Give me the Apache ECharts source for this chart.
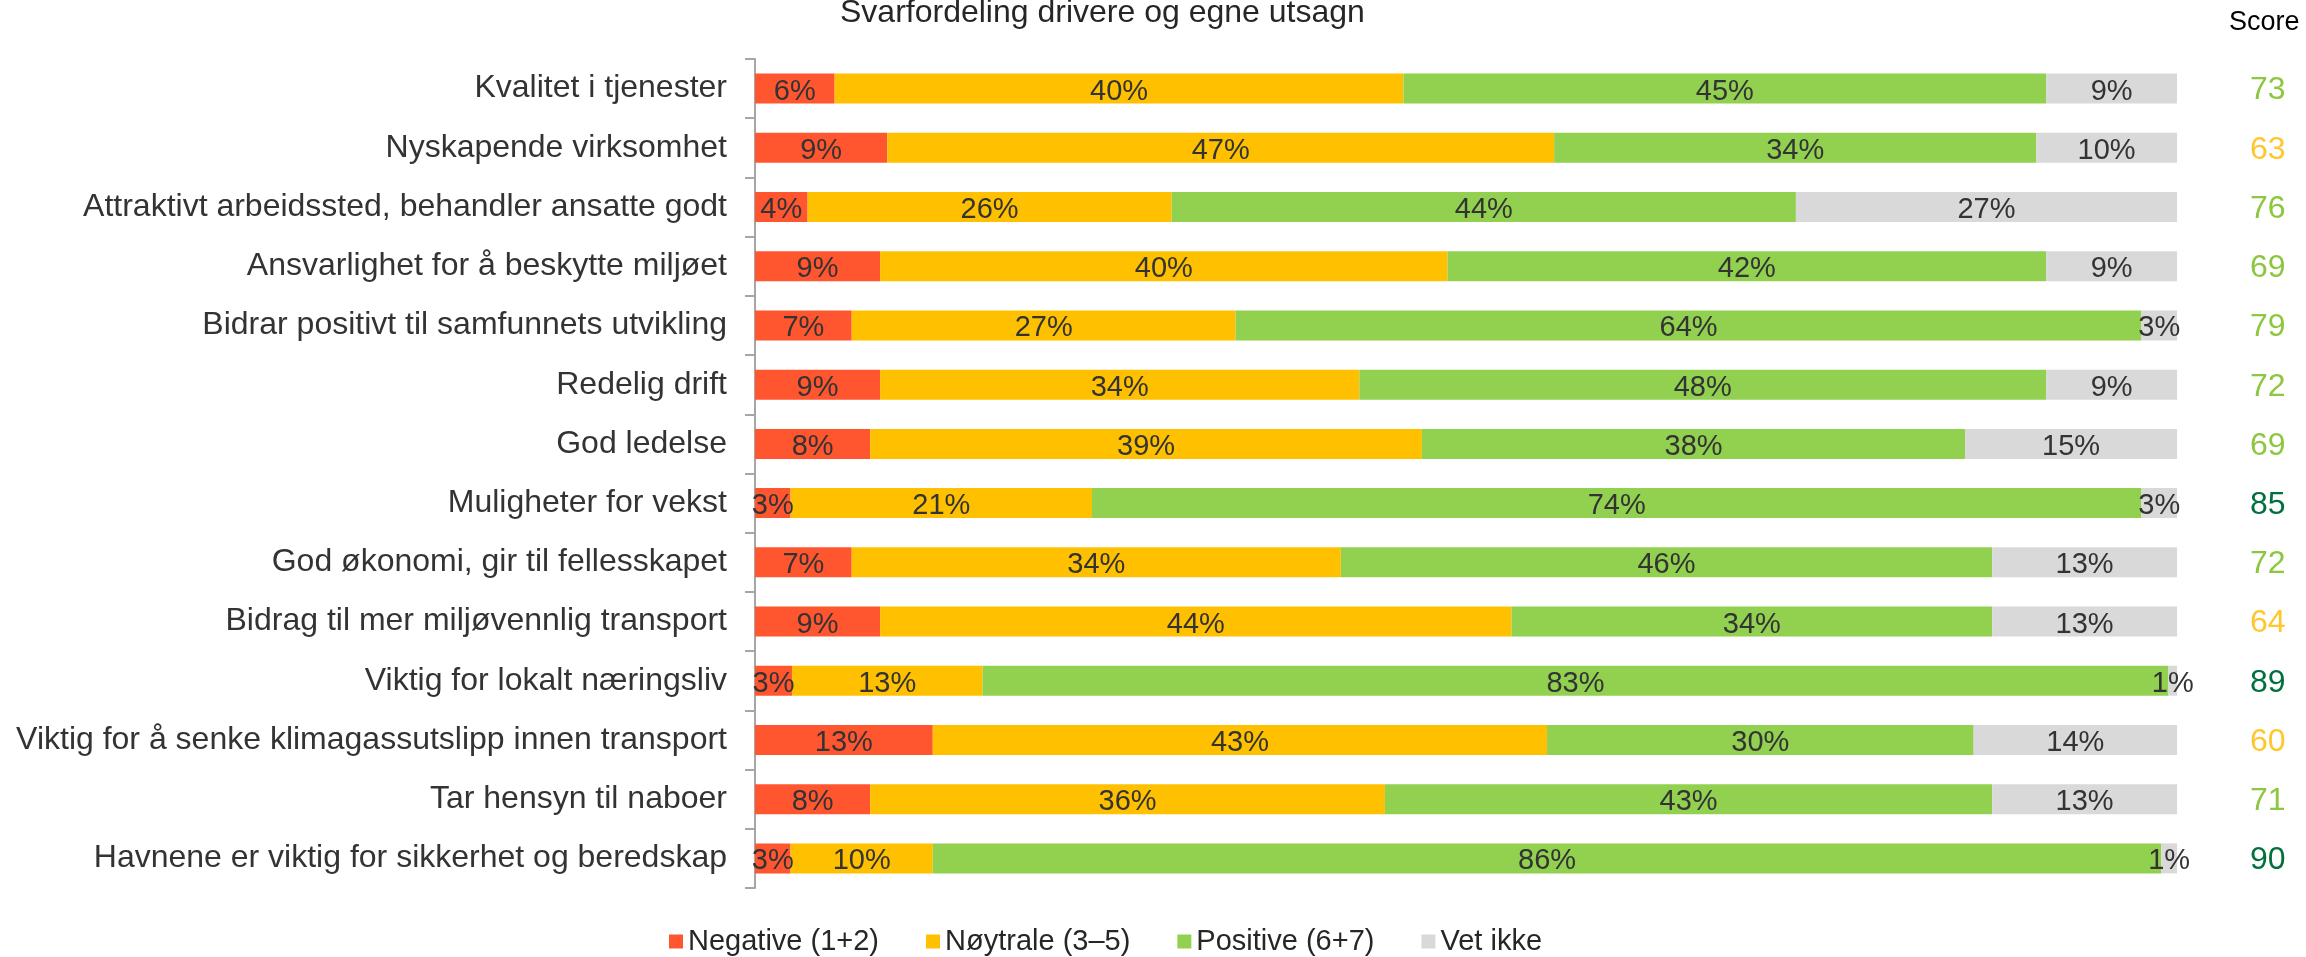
<!DOCTYPE html>
<html>
<head>
<meta charset="utf-8">
<script src="https://cdn.jsdelivr.net/npm/echarts@6/dist/echarts.min.js"></script>
<style>
  html, body { margin: 0; padding: 0; background: #fff; }
  #chart { width: 2306px; height: 957px; }
</style>
</head>
<body>
<div id="chart"></div>
<script>
const categories = [
  'Kvalitet i tjenester',
  'Nyskapende virksomhet',
  'Attraktivt arbeidssted, behandler ansatte godt',
  'Ansvarlighet for å beskytte miljøet',
  'Bidrar positivt til samfunnets utvikling',
  'Redelig drift',
  'God ledelse',
  'Muligheter for vekst',
  'God økonomi, gir til fellesskapet',
  'Bidrag til mer miljøvennlig transport',
  'Viktig for lokalt næringsliv',
  'Viktig for å senke klimagassutslipp innen transport',
  'Tar hensyn til naboer',
  'Havnene er viktig for sikkerhet og beredskap'
]

const negative = [5.6, 9.3, 3.7, 8.8, 6.8, 8.8, 8.1, 2.5, 6.8, 8.8, 2.6, 12.5, 8.1, 2.5]
const neutral  = [40.0, 46.9, 25.6, 39.9, 27.0, 33.7, 38.8, 21.2, 34.4, 44.4, 13.4, 43.2, 36.2, 10.0]
const positive = [45.2, 33.9, 43.9, 42.1, 63.7, 48.3, 38.2, 73.8, 45.8, 33.8, 83.4, 30.0, 42.7, 86.4]
const dontKnow = [9.2, 9.9, 26.8, 9.2, 2.5, 9.2, 14.9, 2.5, 13.0, 13.0, 0.6, 14.3, 13.0, 1.1]

const scores = [73, 63, 76, 69, 79, 72, 69, 85, 72, 64, 89, 60, 71, 90]

const seriesNames = ['Negative (1+2)', 'Nøytrale (3–5)', 'Positive (6+7)', 'Vet ikke']
const COLORS = ['#FF5630', '#FFC000', '#92D050', '#D9D9D9']

const FONT = "'Liberation Sans', Arial, sans-serif"

function scoreClass(v) {
  if (v < 65) return 'low'
  if (v < 85) return 'mid'
  return 'high'
}

const chart = echarts.init(document.getElementById('chart'))

const seriesData = [negative, neutral, positive, dontKnow]

chart.setOption({
  animation: false,
  textStyle: { fontFamily: FONT },
  title: [
    {
      text: 'Svarfordeling drivere og egne utsagn',
      left: 840,
      top: -3,
      padding: 0,
      textStyle: { fontFamily: FONT, fontSize: 32, fontWeight: 'normal', color: '#262626' }
    },
    {
      text: 'Score',
      left: 2229,
      top: 9,
      padding: 0,
      textStyle: { fontFamily: FONT, fontSize: 27, fontWeight: 'normal', color: '#000' }
    }
  ],
  legend: {
    left: 669,
    top: 927,
    padding: 0,
    itemWidth: 14,
    itemHeight: 14,
    itemGap: 47,
    icon: 'rect',
    textStyle: { fontFamily: FONT, fontSize: 29, color: '#262626' },
    data: seriesNames
  },
  grid: {
    left: 755,
    right: 129,
    top: 59,
    bottom: 69
  },
  xAxis: {
    type: 'value',
    min: 0,
    max: 100,
    show: false
  },
  yAxis: [
    {
      type: 'category',
      data: categories,
      inverse: true,
      axisLine: { show: true, lineStyle: { color: '#A6A6A6', width: 2 } },
      axisTick: { show: true, length: 10, lineStyle: { color: '#A6A6A6', width: 2 } },
      axisLabel: { fontFamily: FONT, fontSize: 32, color: '#333', margin: 28, padding: [4, 0, 0, 0] }
    },
    {
      type: 'category',
      data: categories,
      inverse: true,
      position: 'right',
      axisLine: { show: false },
      axisTick: { show: false },
      axisLabel: {
        margin: 73,
        padding: [4, 0, 0, 0],
        formatter: (v, i) => `{${scoreClass(scores[i])}|${scores[i]}}`,
        rich: {
          low: { fontFamily: FONT, fontSize: 32, color: '#FFC72C' },
          mid: { fontFamily: FONT, fontSize: 32, color: '#8DC63F' },
          high: { fontFamily: FONT, fontSize: 32, color: '#00703C' }
        }
      }
    }
  ],
  series: seriesNames.map((name, idx) => ({
    name,
    type: 'bar',
    stack: 'total',
    yAxisIndex: 0,
    barWidth: 30,
    itemStyle: { color: COLORS[idx] },
    label: {
      show: true,
      position: 'inside',
      offset: [0, 3],
      fontFamily: FONT,
      fontSize: 29,
      color: '#333',
      formatter: p => Math.round(p.value) + '%'
    },
    data: seriesData[idx]
  }))
})
</script>
</body>
</html>
